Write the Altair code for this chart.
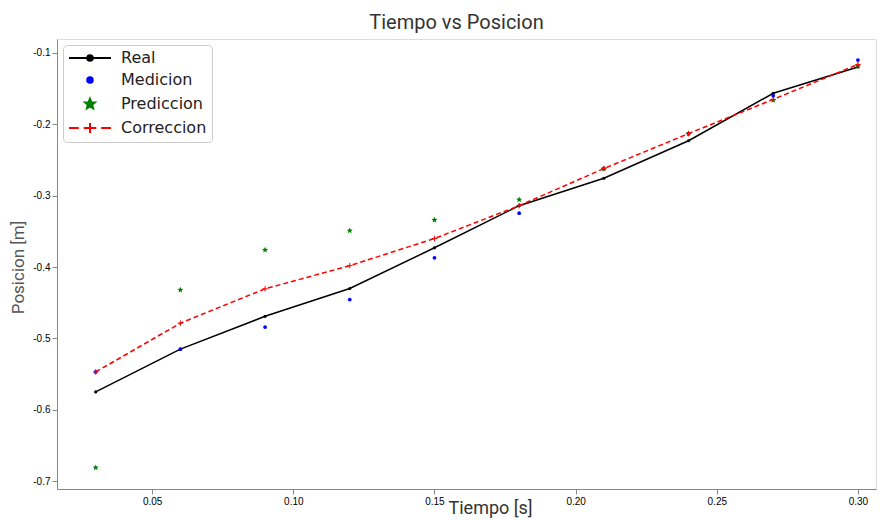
import math
import altair as alt
import pandas as pd

# ---- data ----
tiempo = [0.03, 0.06, 0.09, 0.12, 0.15, 0.18, 0.21, 0.24, 0.27, 0.30]
real = [-0.575, -0.515, -0.469, -0.430, -0.373, -0.314, -0.2755, -0.223, -0.1565, -0.1196]
medicion = [-0.547, -0.515, -0.484, -0.4455, -0.387, -0.3245, -0.262, -0.213, -0.160, -0.110]
prediccion = [-0.681, -0.432, -0.376, -0.349, -0.334, -0.3055, -0.262, -0.213, -0.166, -0.118]
correccion = [-0.547, -0.4786, -0.4305, -0.398, -0.360, -0.314, -0.262, -0.213, -0.165, -0.116]

series_names = ["Real", "Medicion", "Prediccion", "Correccion"]
series_colors = ["#000000", "#0000ff", "#008000", "#ff0000"]
x_ticks = [0.05, 0.10, 0.15, 0.20, 0.25, 0.30]
y_ticks = [-0.1, -0.2, -0.3, -0.4, -0.5, -0.6, -0.7]

rows = []
for name, vals in zip(series_names, [real, medicion, prediccion, correccion]):
    for t, v in zip(tiempo, vals):
        rows.append({"t": t, "v": v, "serie": name})
df = pd.DataFrame(rows)

TITLE_FONT = "Roboto"

xenc = alt.X("t:Q", scale=alt.Scale(domain=[0.0163, 0.3064], nice=False, zero=False),
             axis=alt.Axis(values=x_ticks, format=".2f", title="Tiempo [s]", grid=False,
                           titleFontSize=18, titleFont=TITLE_FONT, titleColor="#333",
                           titleX=391, titleY=19, titleBaseline="middle",
                           titleAlign="left", titleFontWeight="normal"))
yenc = alt.Y("v:Q", scale=alt.Scale(domain=[-0.711, -0.0804], nice=False, zero=False),
             axis=alt.Axis(values=y_ticks, title="Posicion [m]", grid=False,
                           labelExpr="replace(format(datum.value, '.1f'), '\u2212', '-')",
                           titleFontSize=17, titleFont=TITLE_FONT, titleColor="#555",
                           titleX=-39, titleY=228, titleBaseline="middle",
                           titleAlign="center", titleAngle=270,
                           titleFontWeight="normal"))

base = alt.Chart(df).encode(x=xenc, y=yenc)

line_real = base.transform_filter("datum.serie == 'Real'").mark_line(
    color="black", strokeWidth=1.5)
dots_real = base.transform_filter("datum.serie == 'Real'").mark_point(
    filled=True, color="black", size=10, opacity=1)
pts_med = base.transform_filter("datum.serie == 'Medicion'").mark_point(
    filled=True, color="#0000ff", size=14, opacity=1, shape="circle")

def star_path(cx, cy, r_out, r_in):
    pts = []
    for i in range(10):
        ang = -math.pi / 2 + i * math.pi / 5
        r = r_out if i % 2 == 0 else r_in
        pts.append((cx + r * math.cos(ang), cy + r * math.sin(ang)))
    return "M" + "L".join(f"{x:.3f},{y:.3f}" for x, y in pts) + "Z"

pts_pred = base.transform_filter("datum.serie == 'Prediccion'").mark_point(
    filled=True, color="#008000", size=40, opacity=1, shape=star_path(0, 0, 1, 0.45))
line_corr = base.transform_filter("datum.serie == 'Correccion'").mark_line(
    color="#ff0000", strokeWidth=1.5, strokeDash=[5, 3])
plus_corr = base.transform_filter("datum.serie == 'Correccion'").mark_point(
    filled=False, color="#ff0000", size=30, opacity=1, strokeWidth=1,
    shape="M-1,0H1M0,-1V1")

# legend symbols: line + marker paths (units scaled by sqrt(symbolSize)/2)
def circle_path(cx, r):
    return f"M{cx - r},0A{r},{r} 0 1,0 {cx + r},0A{r},{r} 0 1,0 {cx - r},0Z"

sym_real = "M-1,0H5" + circle_path(2, 0.4)
sym_med = circle_path(2, 0.4)
sym_pred = star_path(2, 0, 0.75, 0.33)
sym_corr = "M-1,0H0.4M1.1,0H2.9M3.6,0H5M2,-0.7V0.7"

def make_legend():
    return alt.Legend(title=None, orient="none", legendX=6, legendY=6,
                      labelFontSize=16, labelFont="DejaVu Sans",
                      labelColor="#222", symbolSize=196,
                      symbolStrokeWidth=2, labelOffset=37,
                      rowPadding=6, padding=5, cornerRadius=4,
                      strokeColor="#cccccc", fillColor="white",
                      symbolOpacity=1)

legend_layer = alt.Chart(df).transform_filter("false").mark_point(
    opacity=1, strokeWidth=2).encode(
    x="t:Q", y="v:Q",
    fill=alt.Fill("serie:N", scale=alt.Scale(domain=series_names, range=series_colors),
                  legend=make_legend()),
    stroke=alt.Stroke("serie:N", scale=alt.Scale(domain=series_names, range=series_colors),
                      legend=make_legend()),
    shape=alt.Shape("serie:N",
                    scale=alt.Scale(domain=series_names,
                                    range=[sym_real, sym_med, sym_pred, sym_corr]),
                    legend=make_legend()),
)

chart = alt.layer(
    line_real, dots_real, pts_med, pts_pred, line_corr, plus_corr, legend_layer
).properties(
    width=819, height=450,
    title=alt.TitleParams("Tiempo vs Posicion", font=TITLE_FONT, fontSize=20,
                          fontWeight="normal", color="#333", anchor="middle",
                          dx=-10, offset=6),
    autosize=alt.AutoSizeParams(type="none"),
    padding={"left": 49, "top": 31, "right": 1, "bottom": 29},
).configure_view(
    stroke="#333", strokeWidth=1
).configure_axis(
    domain=False, grid=False, ticks=True, tickSize=4, tickColor="#333",
    labelFontSize=9, labelColor="#333", labelFont="DejaVu Sans",
).configure(background="white")

chart.save("out.html", embed_options={"renderer": "svg", "actions": False})
